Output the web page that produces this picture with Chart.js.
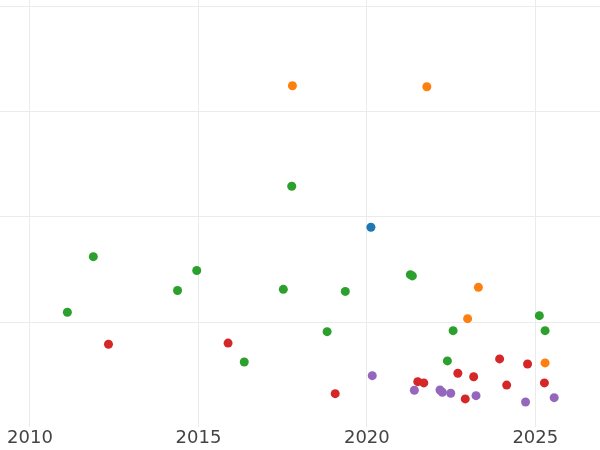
<!DOCTYPE html>
<html>
<head>
<meta charset="utf-8">
<script src="https://cdn.jsdelivr.net/npm/chart.js@4/dist/chart.umd.min.js"></script>
<style>
  html, body { margin: 0; padding: 0; background: #fff; }
  #wrap { width: 600px; height: 450px; }
</style>
</head>
<body>
<div id="wrap"><canvas id="scatterChart" width="600" height="450"></canvas></div>
<script>
// tick positions
var xTicks = [2010, 2015, 2020, 2025];
var yTicks = [1, 2, 3, 4];

// series (x = year, y = value)
var blueX = [2020.12];
var blueY = [1.901];

var orangeX = [2017.79, 2021.78, 2023.31, 2022.99, 2025.29];
var orangeY = [3.246, 3.236, 1.331, 1.033, 0.613];

var greenX = [2017.77, 2011.88, 2014.95, 2014.38, 2017.52, 2019.36, 2021.29, 2021.35,
              2011.11, 2018.82, 2022.56, 2025.12, 2025.29, 2016.36, 2022.39];
var greenY = [2.291, 1.622, 1.491, 1.301, 1.312, 1.292, 1.451, 1.439,
              1.094, 0.910, 0.919, 1.062, 0.919, 0.622, 0.632];

var redX = [2012.33, 2015.88, 2019.06, 2021.51, 2021.69, 2022.70, 2023.17, 2022.92,
            2023.94, 2024.15, 2024.77, 2025.27];
var redY = [0.790, 0.801, 0.321, 0.435, 0.423, 0.515, 0.482, 0.271,
            0.651, 0.402, 0.603, 0.423];

var purpleX = [2020.16, 2021.41, 2022.17, 2022.24, 2022.49, 2023.24, 2024.71, 2025.56];
var purpleY = [0.492, 0.353, 0.356, 0.334, 0.325, 0.302, 0.242, 0.283];

function pts(xs, ys) {
  var out = [];
  for (var i = 0; i < xs.length; i++) out.push({ x: xs[i], y: ys[i] });
  return out;
}

function series(xs, ys, color) {
  return {
    data: pts(xs, ys),
    backgroundColor: color,
    borderWidth: 0,
    pointRadius: 4.5,
    pointHoverRadius: 4.5
  };
}

var gridColor = '#ebebeb';

new Chart(document.getElementById('scatterChart').getContext('2d'), {
  type: 'scatter',
  data: {
    datasets: [
      series(blueX, blueY, '#1f77b4'),
      series(orangeX, orangeY, '#ff7f0e'),
      series(greenX, greenY, '#2ca02c'),
      series(redX, redY, '#d62728'),
      series(purpleX, purpleY, '#9467bd')
    ]
  },
  options: {
    responsive: false,
    animation: false,
    layout: { padding: 0, autoPadding: false },
    plugins: { legend: { display: false }, tooltip: { enabled: false } },
    scales: {
      x: {
        type: 'linear',
        min: 2009.11,
        max: 2026.92,
        afterBuildTicks: function(scale) {
          scale.ticks = xTicks.map(function(v) { return { value: v }; });
        },
        grid: { color: gridColor, lineWidth: 1, drawTicks: false },
        border: { display: false },
        ticks: {
          padding: -1.5,
          color: '#444',
          font: { family: 'DejaVu Sans', size: 18, lineHeight: 1.42 },
          maxRotation: 0,
          callback: function(v) { return String(v); }
        }
      },
      y: {
        type: 'linear',
        min: 0,
        max: 4.06,
        afterBuildTicks: function(scale) {
          scale.ticks = yTicks.map(function(v) { return { value: v }; });
        },
        grid: { color: gridColor, lineWidth: 1, drawTicks: false },
        border: { display: false },
        ticks: { display: false }
      }
    }
  }
});
</script>
</body>
</html>
